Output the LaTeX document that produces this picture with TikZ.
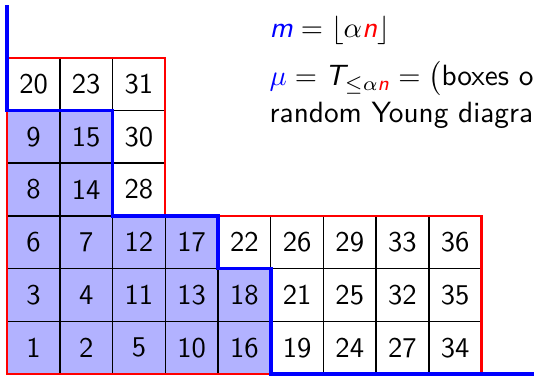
\documentclass[tikz,border=0pt]{standalone}
\usepackage{amsmath}
\usepackage{fontspec}
\renewcommand{\familydefault}{\sfdefault}
\newcommand{\sfit}[1]{\text{\sffamily\itshape #1}}
\begin{document}
\begin{tikzpicture}[x=18.445pt,y=18.445pt,
  cellbox/.style={draw=black,line width=0.5pt,minimum size=18.445pt,inner sep=0pt,font=\sffamily},
  shaded/.style={cellbox,fill=blue!30},
  plain/.style={cellbox},
  outline/.style={draw=red,line width=0.75pt},
  tracepath/.style={draw=blue,line width=1.3pt},
  txt/.style={anchor=base west,inner sep=0pt,font=\fontsize{10.25}{12}\selectfont\sffamily}]
\useasboundingbox (-0.1366,-0.038) rectangle (9.996,7.097);
% row 1 (bottom)
\foreach \v [count=\i from 0] in {1,2,5,10,16}
  \node[shaded] (c1-\i) at (\i+0.5,0.5) {\v};
\foreach \v [count=\i from 5] in {19,24,27,34}
  \node[plain] (c1-\i) at (\i+0.5,0.5) {\v};
% row 2
\foreach \v [count=\i from 0] in {3,4,11,13,18}
  \node[shaded] (c2-\i) at (\i+0.5,1.5) {\v};
\foreach \v [count=\i from 5] in {21,25,32,35}
  \node[plain] (c2-\i) at (\i+0.5,1.5) {\v};
% row 3
\foreach \v [count=\i from 0] in {6,7,12,17}
  \node[shaded] (c3-\i) at (\i+0.5,2.5) {\v};
\foreach \v [count=\i from 4] in {22,26,29,33,36}
  \node[plain] (c3-\i) at (\i+0.5,2.5) {\v};
% row 4
\node[shaded] (c4-0) at (0.5,3.5) {8};
\node[shaded] (c4-1) at (1.5,3.5) {14};
\node[plain]  (c4-2) at (2.5,3.5) {28};
% row 5
\node[shaded] (c5-0) at (0.5,4.5) {9};
\node[shaded] (c5-1) at (1.5,4.5) {15};
\node[plain]  (c5-2) at (2.5,4.5) {30};
% row 6
\node[plain] (c6-0) at (0.5,5.5) {20};
\node[plain] (c6-1) at (1.5,5.5) {23};
\node[plain] (c6-2) at (2.5,5.5) {31};
% red outline
\draw[outline] (0,0) -- (9,0) -- (9,3) -- (3,3) -- (3,6) -- (0,6) -- cycle;
% blue boundary path
\coordinate (ptop) at (0,7.0);
\coordinate (pend) at (10.3,0);
\draw[tracepath] (ptop) -- (0,5) -- (2,5) -- (2,3) -- (4,3) -- (4,2) -- (5,2) -- (5,0) -- (pend);
% text
\node[txt] (t1) at (4.97,6.376) {$\color{blue}\sfit{m}\color{black} = \lfloor \alpha{\color{red}\sfit{n}} \rfloor$};
\node[txt] (t2) at (4.97,5.465) {$\color{blue}\mu\color{black} = \sfit{T}_{\le \alpha {\color{red}\sfit{n}}} = \bigl($boxes of};
\node[txt] (t3) at (4.97,4.78) {random Young diagram};
\end{tikzpicture}
\end{document}
